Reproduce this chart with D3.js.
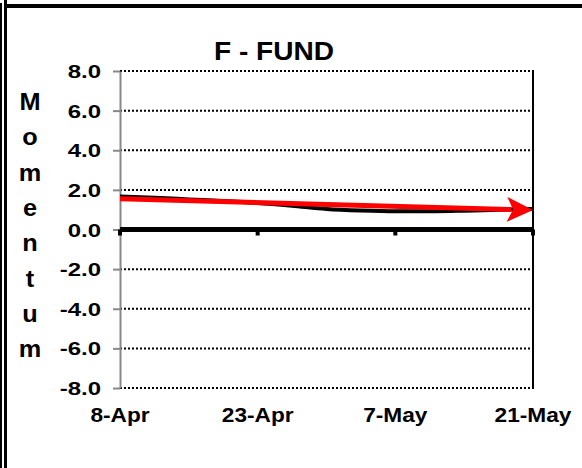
<!DOCTYPE html>
<html>
<head>
<meta charset="utf-8">
<script src="https://cdn.jsdelivr.net/npm/d3@7/dist/d3.min.js"></script>
<style>
  html, body { margin: 0; padding: 0; background: #fff; }
  svg { display: block; }
  text { font-family: "Liberation Sans", Arial, sans-serif; font-weight: bold; fill: #000; }
</style>
</head>
<body>
<script>
// ---- data ----
const title = "F - FUND";
const yAxisTitle = "Momentum";
const xTickLabels = ["8-Apr", "23-Apr", "7-May", "21-May"];
const yTicks = [8, 6, 4, 2, 0, -2, -4, -6, -8];
// momentum series, sampled evenly between first and last date label
const momentum = [1.66, 1.60, 1.52, 1.44, 1.34, 1.20, 1.04, 0.96, 0.92, 0.92, 0.95, 1.00, 1.04];
// trend arrow (start, end)
const trend = [1.55, 0.98];

// ---- layout ----
const W = 582, H = 468;
const plot = { left: 120, right: 533, top: 71, bottom: 388 };

const svg = d3.select("body").append("svg").attr("width", W).attr("height", H);

// outer frame lines
svg.append("rect").attr("x", 0).attr("y", 3).attr("width", 2).attr("height", H - 3).attr("fill", "#000");
svg.append("rect").attr("x", 4).attr("y", 0).attr("width", 3).attr("height", H).attr("fill", "#000");
svg.append("rect").attr("x", 6).attr("y", 4).attr("width", W - 6).attr("height", 4).attr("fill", "#000");

const y = d3.scaleLinear().domain([-8, 8]).range([plot.bottom, plot.top]);
const xCat = d3.scalePoint().domain(xTickLabels).range([plot.left, plot.right]);
const xs = d3.scaleLinear().domain([0, momentum.length - 1]).range([plot.left, plot.right]);

// gridlines (dotted)
svg.append("g").selectAll("line").data(yTicks.filter(d => d !== 0)).join("line")
  .attr("x1", plot.left).attr("x2", plot.right)
  .attr("y1", d => y(d)).attr("y2", d => y(d))
  .attr("stroke", "#000").attr("stroke-width", 2).attr("stroke-dasharray", "2,2");

// left axis (grey) with ticks and labels
const fmt = d => d3.format(".1f")(d).replace("\u2212", "-");
const yAxis = d3.axisLeft(y).tickValues(yTicks).tickSize(7).tickSizeOuter(0).tickFormat(fmt);
const gy = svg.append("g").attr("transform", `translate(${plot.left},0)`).call(yAxis);
gy.select(".domain").attr("stroke", "#888").attr("stroke-width", 2);
gy.selectAll(".tick line").attr("stroke", "#888").attr("stroke-width", 2);
gy.selectAll(".tick text")
  .attr("x", null).attr("dy", null)
  .attr("font-size", 18)
  .attr("text-anchor", "end")
  .attr("transform", "translate(-19,6.5) scale(1.33,1)")
  .style("font-family", "'Liberation Sans', Arial, sans-serif").style("font-weight", "bold");

// right border
svg.append("line").attr("x1", plot.right).attr("x2", plot.right)
  .attr("y1", plot.top - 1).attr("y2", plot.bottom + 1)
  .attr("stroke", "#000").attr("stroke-width", 2);

// zero line (category axis) with ticks
svg.append("line").attr("x1", plot.left).attr("x2", plot.right)
  .attr("y1", y(0)).attr("y2", y(0)).attr("stroke", "#000").attr("stroke-width", 5);
svg.append("g").selectAll("rect").data(xTickLabels).join("rect")
  .attr("x", d => xCat(d) - 2).attr("y", y(0)).attr("width", 4).attr("height", 6).attr("fill", "#000");

// x labels
svg.append("g").selectAll("text").data(xTickLabels).join("text")
  .attr("transform", d => `translate(${xCat(d)},422) scale(1.08,1)`)
  .attr("text-anchor", "middle").attr("font-size", 21).text(d => d);

// momentum line
const line = d3.line().x((d, i) => xs(i)).y(d => y(d)).curve(d3.curveMonotoneX);
svg.append("path").datum(momentum).attr("d", line)
  .attr("fill", "none").attr("stroke", "#000").attr("stroke-width", 4);

// trend arrow
const tx0 = plot.left, tx1 = plot.right;
const ty0 = y(trend[0]), ty1 = y(trend[1]);
const ang = Math.atan2(ty1 - ty0, tx1 - tx0);
const headLen = 26, headHalf = 12.5;
const bx = tx1 - headLen * Math.cos(ang), by = ty1 - headLen * Math.sin(ang);
svg.append("line").attr("x1", tx0).attr("y1", ty0).attr("x2", bx + 4 * Math.cos(ang)).attr("y2", by + 4 * Math.sin(ang))
  .attr("stroke", "#f00").attr("stroke-width", 5);
const px = -Math.sin(ang), py = Math.cos(ang);
svg.append("path")
  .attr("d", `M${tx1},${ty1} L${bx + px * headHalf},${by + py * headHalf} L${bx + 6 * Math.cos(ang)},${by + 6 * Math.sin(ang)} L${bx - px * headHalf},${by - py * headHalf} Z`)
  .attr("fill", "#f00");

// title
svg.append("text").attr("transform", "translate(274,60) scale(1.08,1)")
  .attr("text-anchor", "middle").attr("font-size", 26).text(title);

// vertical axis title, letters stacked
svg.append("g").selectAll("text").data(yAxisTitle.split("")).join("text")
  .attr("transform", (d, i) => `translate(30,${110 + i * 35.3}) scale(1.1,1)`)
  .attr("text-anchor", "middle").attr("font-size", 23).text(d => d);
</script>
</body>
</html>
